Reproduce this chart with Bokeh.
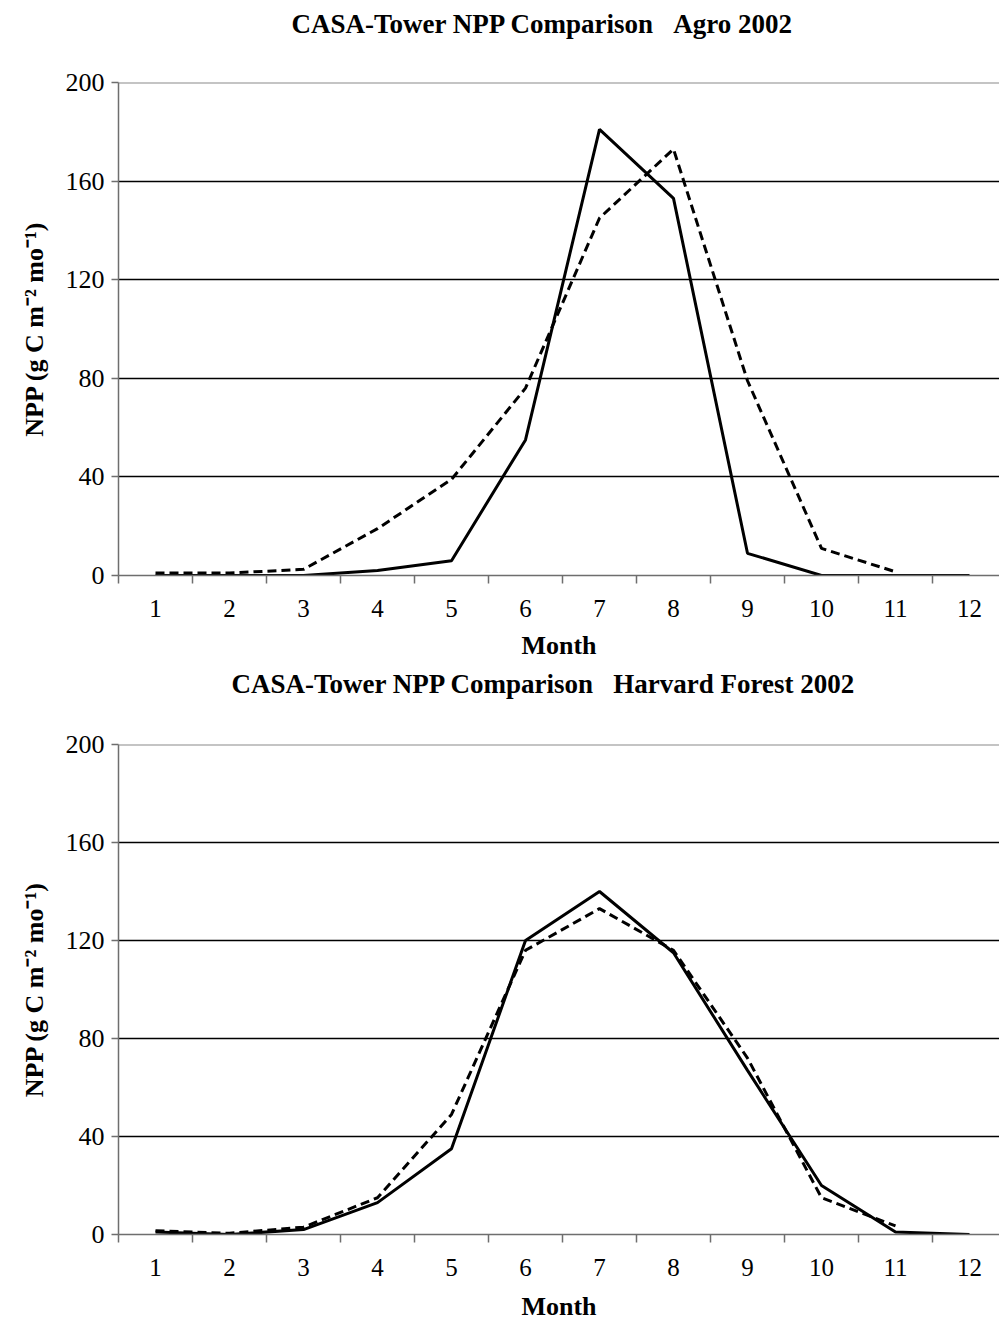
from bokeh.plotting import figure
from bokeh.models import FixedTicker, Span, Title
from bokeh.layouts import column
from bokeh.embed import file_html
from bokeh.resources import INLINE

months = [1, 2, 3, 4, 5, 6, 7, 8, 9, 10, 11, 12]
y_ticks = [0, 40, 80, 120, 160, 200]
grid_ticks = [40, 80, 120, 160]

agro_solid = [0, 0, 0, 2, 6, 55, 181, 153, 9, 0, 0, 0]
agro_dashed = [1, 1, 2.5, 19, 39, 76, 145, 173, 79, 11, 1.5, float("nan")]
harvard_solid = [1, 0, 2, 13, 35, 120, 140, 115, 67, 20, 1, 0]
harvard_dashed = [1.5, 0.5, 3, 15, 49, 116, 133, 116, 72, 15, 3.5, float("nan")]

title_agro = "CASA-Tower NPP Comparison\u00a0\u00a0\u00a0Agro 2002"
title_harvard = "CASA-Tower NPP Comparison\u00a0\u00a0\u00a0Harvard Forest 2002"
y_label = "NPP (g C m\u207b\u00b2 mo\u207b\u00b9)"
x_label = "Month"

SERIF = "Liberation Serif"
W = 999
LEFT = 118
PX_PER_MONTH = 74.0
AXIS_GRAY = "#6e6e6e"


def make(title, solid, dashed, height, top, bottom, title_offset, spacer_size, month_standoff):
    frame_w = W - LEFT
    p = figure(width=W, height=height, output_backend="svg", toolbar_location=None,
               tools="", x_range=(0.5, 0.5 + frame_w / PX_PER_MONTH), y_range=(0, 200),
               min_border_left=LEFT, min_border_right=0, min_border_top=top,
               min_border_bottom=bottom, background_fill_color="white",
               border_fill_color="white", outline_line_color=None)
    # empty spacer title between the frame and the real title
    spacer = Title(text="\u00a0", text_font_size=spacer_size, standoff=0)
    p.add_layout(spacer, "above")
    p.title.text = title
    p.title.text_font = SERIF
    p.title.text_font_style = "bold"
    p.title.text_font_size = "27px"
    p.title.text_color = "black"
    p.title.align = "left"
    p.title.offset = title_offset
    p.title.standoff = 0

    p.xgrid.visible = False
    p.ygrid.ticker = FixedTicker(ticks=grid_ticks)
    p.ygrid.grid_line_color = "black"
    p.ygrid.grid_line_width = 1.6

    top_line = Span(location=200, dimension="width", line_color="#8a8a8a", line_width=2)
    p.add_layout(top_line)

    ya = p.yaxis[0]
    ya.ticker = FixedTicker(ticks=y_ticks)
    ya.axis_line_color = AXIS_GRAY
    ya.axis_line_width = 1.5
    ya.major_tick_line_color = AXIS_GRAY
    ya.major_tick_line_width = 1.5
    ya.major_tick_out = 7
    ya.major_tick_in = 0
    ya.minor_tick_line_color = None
    ya.major_label_text_font = SERIF
    ya.major_label_text_font_size = "26px"
    ya.major_label_text_color = "black"
    ya.major_label_standoff = 7
    ya.axis_label = y_label
    ya.axis_label_text_font = SERIF
    ya.axis_label_text_font_style = "bold"
    ya.axis_label_text_font_size = "26px"
    ya.axis_label_text_color = "black"
    ya.axis_label_standoff = 14

    xa = p.xaxis[0]
    xa.ticker = FixedTicker(ticks=months, minor_ticks=[m - 0.5 for m in months] + [12.5])
    xa.axis_line_color = AXIS_GRAY
    xa.axis_line_width = 1.5
    xa.major_tick_line_color = None
    xa.minor_tick_line_color = AXIS_GRAY
    xa.minor_tick_line_width = 1.5
    xa.minor_tick_out = 8
    xa.minor_tick_in = 0
    xa.major_tick_out = 8
    xa.major_label_text_font = SERIF
    xa.major_label_text_font_size = "25px"
    xa.major_label_text_color = "black"
    xa.major_label_standoff = 16
    xa.axis_label = x_label
    xa.axis_label_text_font = SERIF
    xa.axis_label_text_font_style = "bold"
    xa.axis_label_text_font_size = "26px"
    xa.axis_label_text_color = "black"
    xa.axis_label_standoff = month_standoff

    p.line(months, dashed, line_color="black", line_width=3, line_dash="9 5")
    p.line(months, solid, line_color="black", line_width=3)
    return p


p1 = make(title_agro, agro_solid, agro_dashed, 662, 82, 86, 173, "38px", 11)
p2 = make(title_harvard, harvard_solid, harvard_dashed, 661, 82, 84, 113, "39.5px", 13)

layout = column(p1, p2, spacing=0)
open("out.html", "w").write(file_html(layout, INLINE))
